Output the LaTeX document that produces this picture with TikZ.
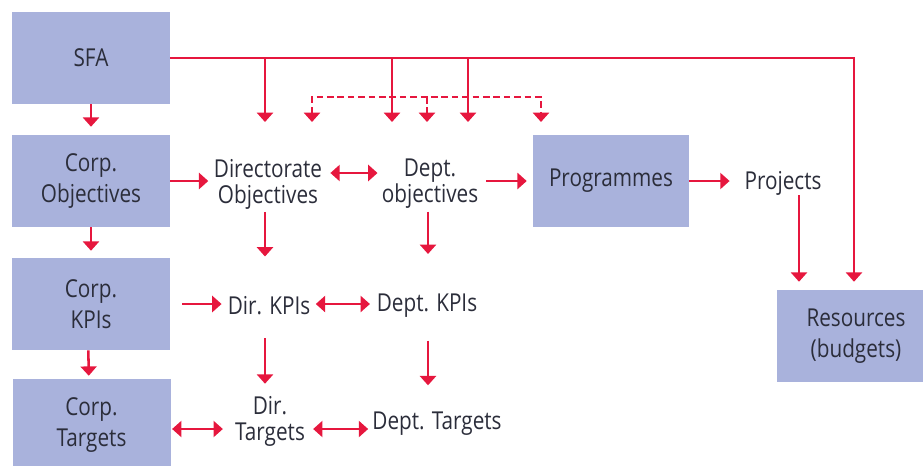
\documentclass[tikz,border=0pt]{standalone}
\usepackage{fontspec}
\setmainfont[FakeStretch=0.84]{Open Sans}
\usetikzlibrary{arrows.meta}
\definecolor{linkred}{HTML}{E6173E}
\definecolor{boxblue}{HTML}{A9B2DC}
\definecolor{inkgray}{HTML}{2B2D3A}
\newcommand{\boxfont}{\fontsize{18.5}{23}\selectfont}
\newcommand{\lblfont}{\fontsize{18.5}{19.5}\selectfont}
\begin{document}
\begin{tikzpicture}[x=0.75pt,y=-0.75pt,
  box/.style={fill=boxblue, minimum width=118.5pt, minimum height=69pt,
    inner sep=0pt, align=center, font=\boxfont, text=inkgray},
  lbl/.style={align=center, inner sep=0pt, font=\lblfont, text=inkgray},
  link/.style={draw=linkred, line width=1.9pt},
  arr/.style={link, -{Triangle[width=12pt,length=7pt]}},
  dbl/.style={link, {Triangle[width=12pt,length=7pt]}-{Triangle[width=12pt,length=7pt]}},
  dash line/.style={link, dash pattern=on 5pt off 2.8pt}]
\useasboundingbox (0,0) rectangle (923,465);

% shaded boxes
\node[box] (sfa)     at (91,58)   {SFA};
\node[box] (corpobj) at (91,181)  {Corp.\\Objectives};
\node[box] (corpkpi) at (91,304)  {Corp.\\KPIs};
\node[box] (corptgt) at (91.5,425) {Corp.\\Targets};
\node[box, minimum width=117pt] (prog) at (611,181) {Programmes};
\node[box] (res)     at (856,336) {Resources\\(budgets)};

% plain labels
\node[lbl] (dirobj)  at (268,184) {Directorate\\Objectives};
\node[lbl] (deptobj) at (430,184) {Dept.\\objectives};
\node[lbl] (proj)    at (783,183) {Projects};
\node[lbl] (dirkpi)  at (269,306) {Dir. KPIs};
\node[lbl] (deptkpi) at (427,306) {Dept. KPIs};
\node[lbl] (dirtgt)  at (270,421) {Dir.\\Targets};
\node[lbl] (depttgt) at (437,424) {Dept. Targets};

% bus from SFA
\coordinate (b1) at (265,58);
\coordinate (b2) at (392,58);
\coordinate (b3) at (468,58);
\coordinate (t1) at (265,122);
\coordinate (t2) at (392,122);
\coordinate (t3) at (468,122);
\draw[arr, shorten >=6pt] (sfa.east) -| ([xshift=-1.5pt]res.north);
\draw[arr] (b1) -- (t1);
\draw[arr] (b2) -- (t2);
\draw[arr] (b3) -- (t3);

% dashed distribution line
\coordinate (s1) at (312,122);
\coordinate (s2) at (427,122);
\coordinate (s3) at (541,122);
\coordinate (m2) at (427,97);
\draw[dash line, {Triangle[width=12pt,length=7pt]}-{Triangle[width=12pt,length=7pt]}]
  (s1) |- (m2) -| (s3);
\draw[dash line, -{Triangle[width=12pt,length=7pt]}] (m2) -- (s2);

% corporate column
\draw[arr, shorten >=6pt] (sfa.south) -- (corpobj.north);
\draw[arr, shorten >=5.25pt] (corpobj.south) -- (corpkpi.north);
\draw[arr, shorten >=2.25pt] ([xshift=-2pt]corpkpi.south) -- ([xshift=-2pt]corptgt.north);

% objectives row
\draw[arr, shorten >=4pt] (corpobj.east) -- (dirobj.west |- corpobj.east);
\draw[dbl, shorten <=6pt, shorten >=3pt] ([yshift=8.25pt]dirobj.east) -- ([yshift=8.25pt]deptobj.east -| deptobj.west);
\draw[arr, shorten <=6pt, shorten >=4.5pt] (deptobj.east |- prog.west) -- (prog.west);
\draw[arr, shorten >=11pt] (prog.east) -- (proj.west |- prog.east);
\draw[arr, shorten >=6pt] ([xshift=12pt]proj.south) -- ([xshift=12pt]proj.south |- res.north);

% downward links
\draw[arr, shorten <=2pt, shorten >=30pt] ([xshift=-2.25pt]dirobj.south) -- ([xshift=-2.25pt]dirobj.south |- dirkpi.north);
\draw[arr, shorten <=2pt, shorten >=30pt] ([xshift=-1.5pt]deptobj.south) -- ([xshift=-1.5pt]deptobj.south |- deptkpi.north);
\draw[arr, shorten <=17pt, shorten >=9pt] ([xshift=-3pt]dirkpi.south) -- ([xshift=-3pt]dirkpi.south |- dirtgt.north);
\draw[arr, shorten <=17pt, shorten >=20pt] ([xshift=0.75pt]deptkpi.south) -- ([xshift=0.75pt]deptkpi.south |- depttgt.north);

% KPI and target rows
\draw[arr, shorten <=9pt, shorten >=4.5pt] (corpkpi.east) -- (dirkpi.west |- corpkpi.east);
\draw[dbl, shorten <=4pt, shorten >=5pt] (corpkpi.east -| dirkpi.east) -- (corpkpi.east -| deptkpi.west);
\draw[dbl, shorten <=1pt, shorten >=9pt] ([yshift=-3pt]corptgt.east) -- ([yshift=-3pt]corptgt.east -| dirtgt.west);
\draw[dbl, shorten <=6pt, shorten >=3pt] ([yshift=-3pt]corptgt.east -| dirtgt.east) -- ([yshift=-3pt]corptgt.east -| depttgt.west);
\end{tikzpicture}
\end{document}
